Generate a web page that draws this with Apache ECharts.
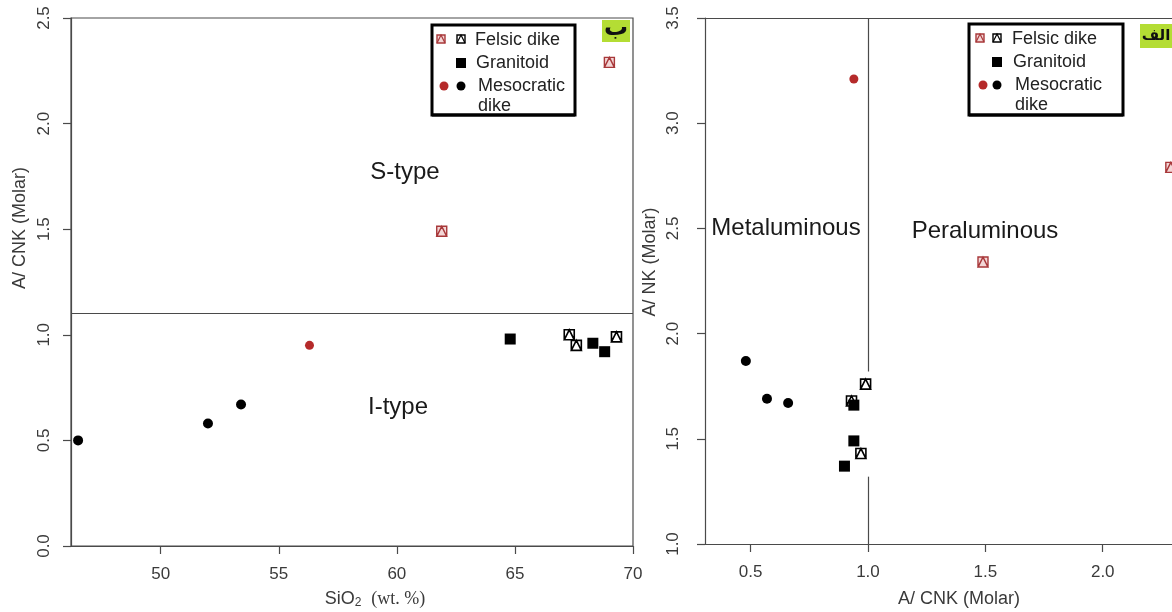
<!DOCTYPE html>
<html>
<head>
<meta charset="utf-8">
<script src="https://cdn.jsdelivr.net/npm/echarts@6/dist/echarts.min.js"></script>
<style>
  html, body { margin: 0; padding: 0; background: #fff; }
  #main { width: 1172px; height: 612px; }
</style>
</head>
<body>
<div id="main"></div>
<script>
// --- panel ب : SiO2 vs A/CNK ---
var felsicRedSiO2 = [61.9, 69.0];
var felsicRedACNK = [1.49, 2.29];
var felsicBlkSiO2 = [67.3, 67.6, 69.3];
var felsicBlkACNK = [1.00, 0.95, 0.99];
var granSiO2 = [64.8, 68.3, 68.8];
var granACNK = [0.98, 0.96, 0.92];
var mesoRedSiO2 = [56.3];
var mesoRedACNK = [0.95];
var mesoBlkSiO2 = [46.5, 52.0, 53.4];
var mesoBlkACNK = [0.50, 0.58, 0.67];

// --- panel الف : A/CNK vs A/NK ---
var felsicRedX = [1.49, 2.29];
var felsicRedY = [2.34, 2.79];
var felsicBlkX = [0.99, 0.93, 0.97];
var felsicBlkY = [1.76, 1.68, 1.43];
var granX = [0.94, 0.94, 0.90];
var granY = [1.66, 1.49, 1.37];
var mesoRedX = [0.94];
var mesoRedY = [3.21];
var mesoBlkX = [0.48, 0.57, 0.66];
var mesoBlkY = [1.87, 1.69, 1.67];

var sio2Ticks = [50, 55, 60, 65, 70];
var acnkTicksL = [0.0, 0.5, 1.0, 1.5, 2.0, 2.5];
var acnkTicksR = [0.5, 1.0, 1.5, 2.0];
var ankTicks = [1.0, 1.5, 2.0, 2.5, 3.0, 3.5];

var sTypeLimit = 1.1;     // horizontal boundary, left panel
var peraLimit = 1.0;      // vertical boundary, right panel

var chart = echarts.init(document.getElementById('main'), null, { renderer: 'canvas' });

var RED = '#a8383a';
var AX = '#4a4a4a';
var FONT = '"Liberation Sans", Arial, sans-serif';
var pch14 = 'path://M0,0 L10,0 L10,10 L0,10 Z M0,10 L5,0 L10,10 Z';

function zip(xs, ys) {
  return xs.map(function (x, i) { return [x, ys[i]]; });
}

function pts(name, xs, ys, idx, kind) {
  var s = { name: name, type: 'scatter', xAxisIndex: idx, yAxisIndex: idx, data: zip(xs, ys), z: 5, silent: true, clip: false };
  if (kind === 'felsicRed') {
    s.symbol = pch14; s.symbolSize = 10;
    s.itemStyle = { color: '#f3d6d6', borderColor: RED, borderWidth: 1.4, opacity: 1 };
  } else if (kind === 'felsicBlk') {
    s.symbol = pch14; s.symbolSize = 10;
    s.itemStyle = { color: '#fff', borderColor: '#000', borderWidth: 1.6, opacity: 1 };
  } else if (kind === 'gran') {
    s.symbol = 'rect'; s.symbolSize = 11;
    s.itemStyle = { color: '#000', opacity: 1 };
  } else if (kind === 'mesoRed') {
    s.symbol = 'circle'; s.symbolSize = 9;
    s.itemStyle = { color: '#b52a2a', opacity: 1 };
  } else {
    s.symbol = 'circle'; s.symbolSize = 10;
    s.itemStyle = { color: '#000', opacity: 1 };
  }
  return s;
}

function xAx(idx, min, max, ticks, decimals) {
  return {
    type: 'value', gridIndex: idx, min: min, max: max,
    axisLine: { show: true, onZero: false, lineStyle: { color: AX, width: 1.2 } },
    axisTick: { show: true, inside: false, length: 8, customValues: ticks, lineStyle: { color: AX, width: 1.2 } },
    axisLabel: {
      customValues: ticks, margin: 20, color: '#3a3a3a', fontSize: 17, fontFamily: FONT,
      formatter: function (v) { return decimals ? v.toFixed(decimals) : String(v); }
    },
    splitLine: { show: false }
  };
}

function yAx(idx, min, max, ticks, margin) {
  return {
    type: 'value', gridIndex: idx, min: min, max: max,
    axisLine: { show: true, onZero: false, lineStyle: { color: AX, width: 1.2 } },
    axisTick: { show: true, inside: false, length: 8, customValues: ticks, lineStyle: { color: AX, width: 1.2 } },
    axisLabel: {
      customValues: ticks, rotate: 90, margin: margin, color: '#3a3a3a', fontSize: 17, fontFamily: FONT,
      formatter: function (v) { return v.toFixed(1); }
    },
    splitLine: { show: false }
  };
}

// legend drawn by hand: two marker colours per entry, like the original
function legendBox(x0, y0, w, h, c) {
  var kids = [
    { type: 'rect', shape: { x: x0, y: y0, width: w, height: h }, style: { fill: '#fff', stroke: '#000', lineWidth: 3 } }
  ];
  function p14(cx, cy, stroke, fill) {
    kids.push({ type: 'rect', shape: { x: cx - 4, y: cy - 4, width: 8, height: 8 }, style: { fill: fill, stroke: stroke, lineWidth: 1.4 } });
    kids.push({ type: 'polyline', shape: { points: [[cx - 4, cy + 4], [cx, cy - 4], [cx + 4, cy + 4]] }, style: { stroke: stroke, lineWidth: 1.2, fill: null } });
  }
  p14(c.r1, y0 + 14, RED, '#f3d6d6');
  p14(c.b1, y0 + 14, '#000', '#fff');
  kids.push({ type: 'rect', shape: { x: c.b1 - 5, y: y0 + 33, width: 10, height: 10 }, style: { fill: '#000' } });
  kids.push({ type: 'circle', shape: { cx: c.r1 + 3, cy: y0 + 61, r: 4.5 }, style: { fill: '#b52a2a' } });
  kids.push({ type: 'circle', shape: { cx: c.b1, cy: y0 + 61, r: 4.5 }, style: { fill: '#000' } });
  var ts = { fill: '#222', fontSize: 18, fontFamily: FONT, verticalAlign: 'middle' };
  kids.push({ type: 'text', style: Object.assign({ x: c.t, y: y0 + 15, text: 'Felsic dike' }, ts) });
  kids.push({ type: 'text', style: Object.assign({ x: c.t + 1, y: y0 + 38, text: 'Granitoid' }, ts) });
  kids.push({ type: 'text', style: Object.assign({ x: c.t + 3, y: y0 + 61, text: 'Mesocratic' }, ts) });
  kids.push({ type: 'text', style: Object.assign({ x: c.t + 3, y: y0 + 81, text: 'dike' }, ts) });
  // bottom edge sits over the second line of text, as in the picture
  kids.push({ type: 'line', shape: { x1: x0, y1: y0 + h, x2: x0 + w, y2: y0 + h }, style: { stroke: '#000', lineWidth: 3 }, z: 20 });
  return { type: 'group', children: kids, z: 10 };
}

function tag(x, y, w, h, txt, size, dy) {
  return {
    type: 'group', z: 10, children: [
      { type: 'rect', shape: { x: x, y: y, width: w, height: h }, style: { fill: '#b4dd34' } },
      { type: 'text', style: { x: x + w / 2, y: y + h / 2 + dy, text: txt, fill: '#111', fontSize: size, fontWeight: 'bold', fontFamily: '"DejaVu Sans", sans-serif', align: 'center', verticalAlign: 'middle' } }
    ]
  };
}

function label(x, y, txt, size) {
  return { type: 'text', z: 6, style: { x: x, y: y, text: txt, fill: '#1a1a1a', fontSize: size, fontFamily: FONT, align: 'center', verticalAlign: 'middle' } };
}

var rightX = xAx(1, 0.306, 2.295, acnkTicksR, 1);
// top edge of the right frame only (its right edge falls outside the picture)
var rightTop = {
  type: 'value', gridIndex: 1, position: 'top', min: 0.306, max: 2.295,
  axisLine: { show: true, onZero: false, lineStyle: { color: AX, width: 1.2 } },
  axisTick: { show: false }, axisLabel: { show: false }, splitLine: { show: false }
};

var option = {
  backgroundColor: '#fff',
  animation: false,
  grid: [
    { left: 71, top: 18, width: 562, height: 528, show: true, borderColor: AX, borderWidth: 1.2, backgroundColor: 'transparent' },
    { left: 705, top: 18, width: 467, height: 526, show: false }
  ],
  xAxis: [
    xAx(0, 46.2, 70, sio2Ticks, 0),
    rightX,
    rightTop
  ],
  yAxis: [
    yAx(0, 0, 2.5, acnkTicksL, 18),
    yAx(1, 1.0, 3.5, ankTicks, 23)
  ],
  series: [
    pts('Felsic dike', felsicRedSiO2, felsicRedACNK, 0, 'felsicRed'),
    pts('Felsic dike', felsicBlkSiO2, felsicBlkACNK, 0, 'felsicBlk'),
    pts('Granitoid', granSiO2, granACNK, 0, 'gran'),
    pts('Mesocratic dike', mesoRedSiO2, mesoRedACNK, 0, 'mesoRed'),
    pts('Mesocratic dike', mesoBlkSiO2, mesoBlkACNK, 0, 'mesoBlk'),
    pts('Felsic dike', felsicRedX, felsicRedY, 1, 'felsicRed'),
    pts('Felsic dike', felsicBlkX, felsicBlkY, 1, 'felsicBlk'),
    pts('Granitoid', granX, granY, 1, 'gran'),
    pts('Mesocratic dike', mesoRedX, mesoRedY, 1, 'mesoRed'),
    pts('Mesocratic dike', mesoBlkX, mesoBlkY, 1, 'mesoBlk'),
    {
      type: 'line', xAxisIndex: 0, yAxisIndex: 0, data: [], silent: true,
      markLine: {
        symbol: ['none', 'none'], silent: true, label: { show: false },
        lineStyle: { color: AX, width: 1.2, type: 'solid' },
        data: [{ yAxis: sTypeLimit }]
      }
    },
    {
      type: 'line', xAxisIndex: 1, yAxisIndex: 1, data: [], silent: true,
      markLine: {
        symbol: ['none', 'none'], silent: true, label: { show: false },
        lineStyle: { color: AX, width: 1.2, type: 'solid' },
        data: [
          [{ coord: [peraLimit, 3.5] }, { coord: [peraLimit, 1.82] }],
          [{ coord: [peraLimit, 1.32] }, { coord: [peraLimit, 1.0] }]
        ]
      }
    }
  ],
  graphic: [
    // axis titles
    {
      type: 'text', style: {
        x: 375, y: 599, align: 'center', verticalAlign: 'middle',
        text: 'SiO{sub|2}  {s|(wt. %)}',
        fill: '#3a3a3a', fontSize: 18, fontFamily: FONT,
        rich: {
          sub: { fontSize: 12, fontFamily: FONT, fill: '#3a3a3a', padding: [8, 0, 0, 0] },
          s: { fontSize: 18, fontFamily: '"Liberation Serif", serif', fill: '#3a3a3a' }
        }
      }
    },
    { type: 'text', style: { x: 959, y: 599, align: 'center', verticalAlign: 'middle', text: 'A/ CNK (Molar)', fill: '#3a3a3a', fontSize: 18, fontFamily: FONT } },
    { type: 'text', x: 20, y: 228, rotation: Math.PI / 2, style: { x: 0, y: 0, align: 'center', verticalAlign: 'middle', text: 'A/ CNK (Molar)', fill: '#3a3a3a', fontSize: 18, fontFamily: FONT } },
    { type: 'text', x: 650, y: 262, rotation: Math.PI / 2, style: { x: 0, y: 0, align: 'center', verticalAlign: 'middle', text: 'A/ NK (Molar)', fill: '#3a3a3a', fontSize: 18, fontFamily: FONT } },
    // field names
    label(405, 172, 'S-type', 24),
    label(398, 407, 'I-type', 24),
    label(786, 228, 'Metaluminous', 24),
    label(985, 231, 'Peraluminous', 24),
    // legends and panel tags
    legendBox(432, 25, 143, 90, { r1: 441, b1: 461, t: 475 }),
    legendBox(969, 24, 154, 91, { r1: 980, b1: 997, t: 1012 }),
    tag(602, 20, 28, 22, 'ب', 24, -2),
    tag(1140, 24, 32, 24, 'الف', 15, 0)
  ]
};

chart.setOption(option);
</script>
</body>
</html>
